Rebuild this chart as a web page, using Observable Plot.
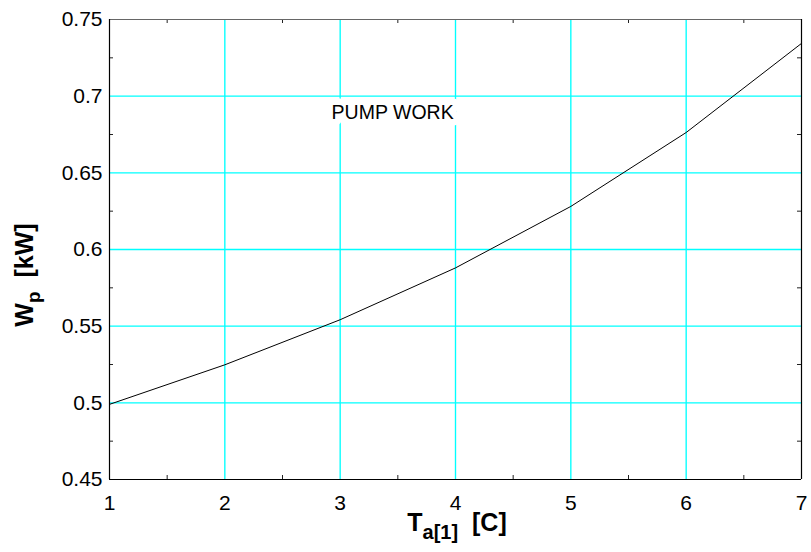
<!DOCTYPE html>
<html><head><meta charset="utf-8">
<script src="https://cdn.jsdelivr.net/npm/d3@7"></script>
<script src="https://cdn.jsdelivr.net/npm/@observablehq/plot@0.6"></script>
<style>body{margin:0;background:#fff} svg{display:block}</style>
</head><body><div id="chart"></div>
<script>
const temperatures = [1, 2, 3, 4, 5, 6, 7];
const pumpWork = [0.499, 0.5248, 0.5542, 0.5880, 0.6281, 0.6763, 0.7344];
const xTicks = [1, 2, 3, 4, 5, 6, 7];
const yTicks = [0.45, 0.5, 0.55, 0.6, 0.65, 0.7, 0.75];
const xMinor = [1.5, 2.5, 3.5, 4.5, 5.5, 6.5];
const yMinor = [0.475, 0.525, 0.575, 0.625, 0.675, 0.725];
const xGrid = [2, 3, 4, 5, 6];
const yGrid = [0.5, 0.55, 0.6, 0.65, 0.7];
const annotation = [{x: 3.455, y: 0.6889, text: "PUMP WORK"}];

const W = 811, H = 552, mt = 19, mb = 73, ml = 109, mr = 10;
const ph = H - mt - mb, pw = W - ml - mr;
const tl = 4;
const data = temperatures.map((t, i) => ({t, w: pumpWork[i]}));

const chart = Plot.plot({
  width: W, height: H,
  marginTop: mt, marginBottom: mb, marginLeft: ml, marginRight: mr,
  style: {fontFamily: "'Liberation Sans', Arial, sans-serif", fontSize: "20px", color: "#000", background: "#fff"},
  x: {domain: [1, 7]},
  y: {domain: [0.45, 0.75]},
  marks: [
    Plot.ruleX(xGrid, {x: d => d, stroke: "#00ffff", strokeWidth: 1.35}),
    Plot.ruleY(yGrid, {y: d => d, stroke: "#00ffff", strokeWidth: 1.35}),
    Plot.text(annotation, {x: "x", y: "y", text: "text", fontSize: 19.5, fill: "#000", stroke: "#fff", strokeWidth: 13}),
    Plot.line(data, {x: "t", y: "w", stroke: "#000", strokeWidth: 1}),
    Plot.tickX(xMinor, {x: d => d, insetTop: ph - tl, stroke: "#222"}),
    Plot.tickX(xMinor, {x: d => d, insetBottom: ph - tl, stroke: "#222"}),
    Plot.tickY(yMinor, {y: d => d, insetRight: pw - tl, stroke: "#222"}),
    Plot.tickY(yMinor, {y: d => d, insetLeft: pw - tl, stroke: "#222"}),
    Plot.ruleY([yTicks[yTicks.length - 1]], {y: d => d, stroke: "#666", strokeWidth: 1.2}),
    Plot.ruleY([yTicks[0]], {y: d => d, stroke: "#000", strokeWidth: 1.2}),
    Plot.ruleX([xTicks[0], xTicks[xTicks.length - 1]], {x: d => d, stroke: "#000", strokeWidth: 1.2}),
    Plot.axisX(xTicks, {tickSize: 0, tickPadding: 16, fontSize: 21, label: null, tickFormat: d => String(d)}),
    Plot.axisY(yTicks, {tickSize: 0, tickPadding: 7, fontSize: 21, label: null, tickFormat: d => String(d)})
  ]
});
document.getElementById("chart").appendChild(chart);

const svg = d3.select(chart);
const xl = svg.append("text")
  .attr("x", 457).attr("y", 531)
  .attr("text-anchor", "middle")
  .attr("font-weight", "bold").attr("font-size", 25)
  .attr("font-family", "'Liberation Sans', Arial, sans-serif").attr("fill", "#000");
xl.append("tspan").text("T");
xl.append("tspan").attr("font-size", 20).attr("dy", 8).text("a[1]");
xl.append("tspan").attr("dy", -8).text("\u00a0\u00a0[C]");

const yl = svg.append("text")
  .attr("transform", "translate(33,275) rotate(-90)")
  .attr("text-anchor", "middle")
  .attr("font-weight", "bold").attr("font-size", 25)
  .attr("font-family", "'Liberation Sans', Arial, sans-serif").attr("fill", "#000");
yl.append("tspan").text("W");
yl.append("tspan").attr("font-size", 19).attr("dy", 7).text("p");
yl.append("tspan").attr("dy", -7).text("\u00a0\u00a0[kW]");
</script>
</body></html>
